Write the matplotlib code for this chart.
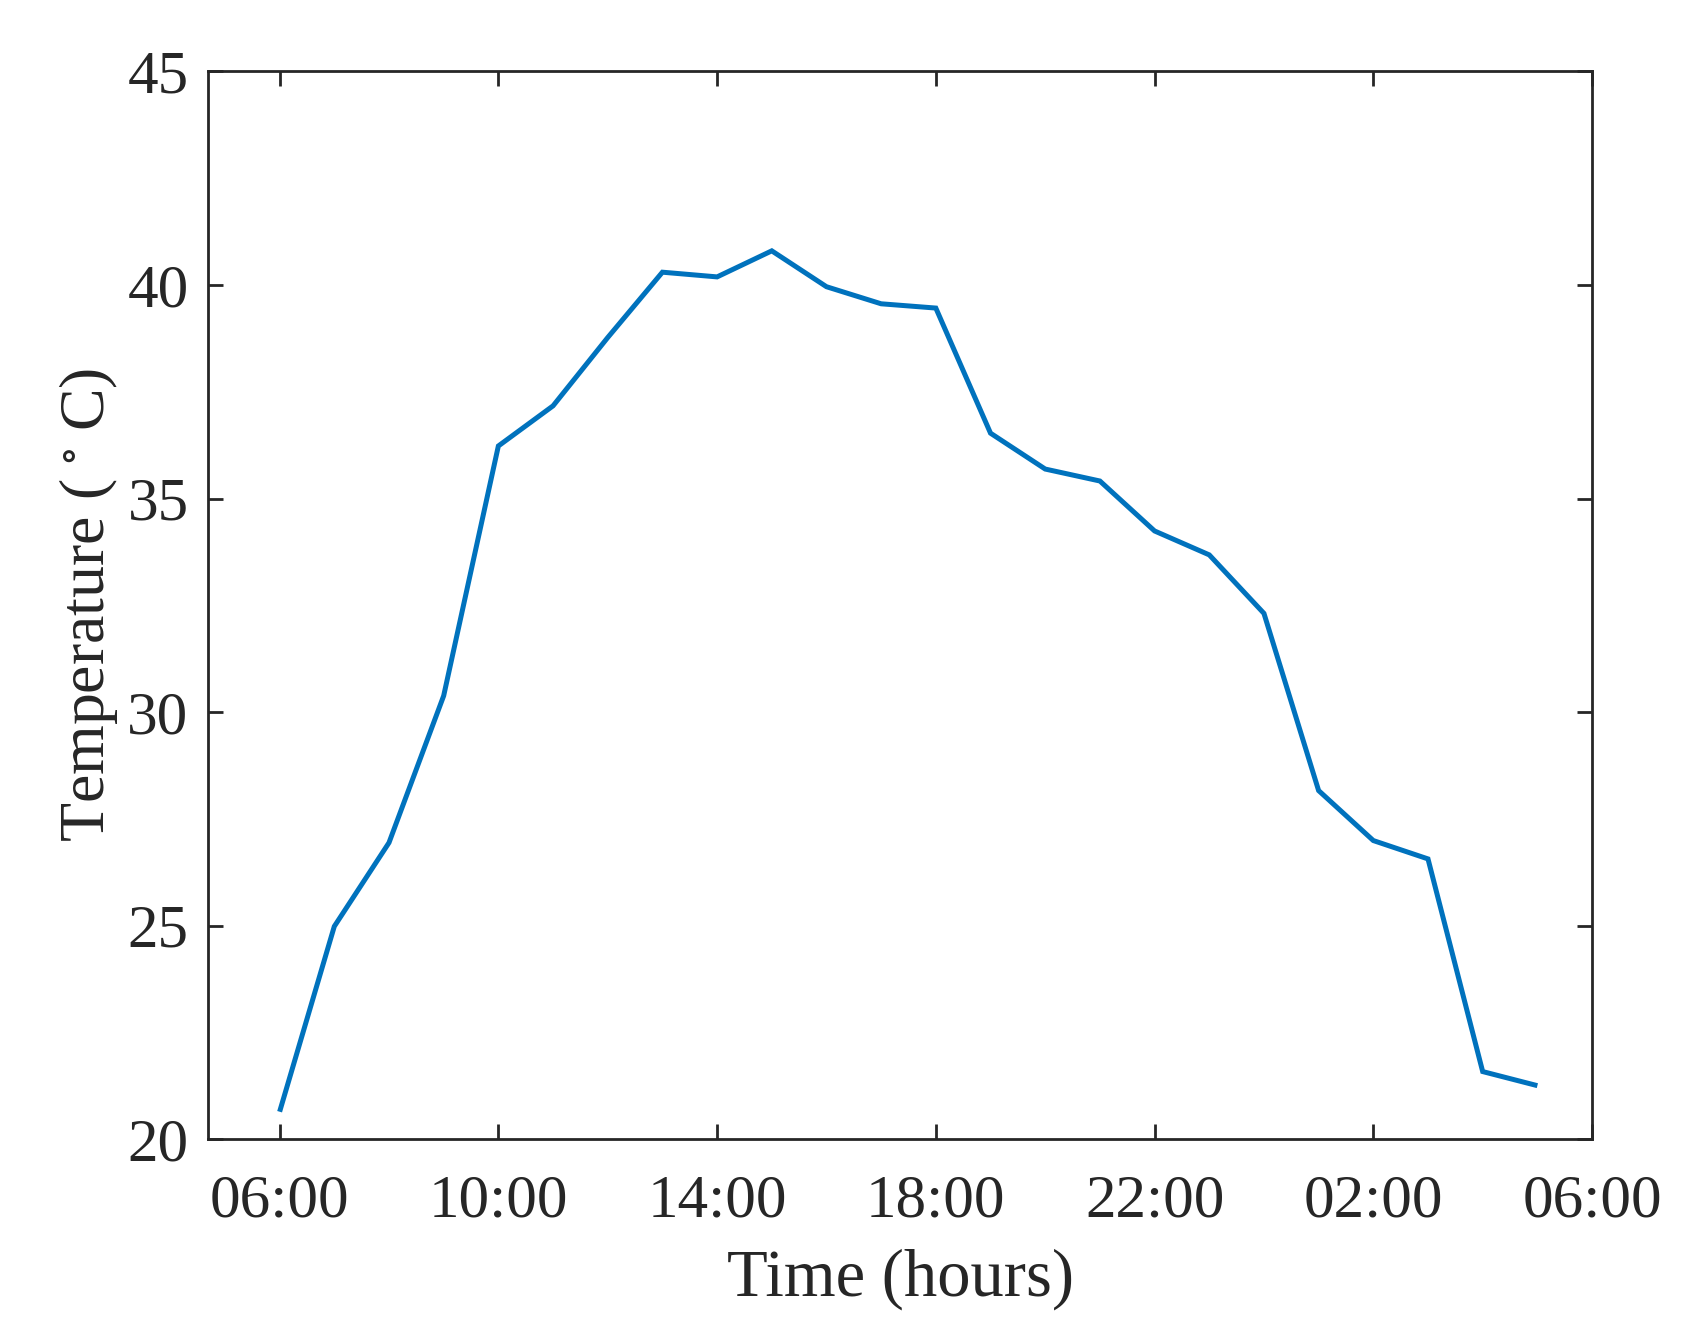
import numpy as np
import matplotlib
matplotlib.use("Agg")
import matplotlib.pyplot as plt

# hourly readings, starting 06:00
hours = np.arange(24)
temps = [20.64, 24.98, 26.94, 30.38, 36.23, 37.17, 38.77, 40.30, 40.19, 40.80,
         39.96, 39.56, 39.46, 36.53, 35.69, 35.41, 34.24, 33.68, 32.31, 28.16,
         26.99, 26.56, 21.58, 21.25]
tick_hours = [0, 4, 8, 12, 16, 20, 24]
tick_labels = ["06:00", "10:00", "14:00", "18:00", "22:00", "02:00", "06:00"]
y_ticks = [20, 25, 30, 35, 40, 45]

plt.rcParams["font.family"] = ["Liberation Serif", "DejaVu Serif"]
plt.rcParams["mathtext.fontset"] = "stix"

dark = "#262626"
fig = plt.figure(figsize=(17.02, 13.24), dpi=100)
ax = fig.add_axes([0.1222, 0.1397, 0.8132, 0.8063])
ax.plot(hours, temps, color="#0072BD", lw=3.6, solid_joinstyle="miter",
        solid_capstyle="butt")

ax.set_xlim(-1.31, 24)
ax.set_ylim(20, 45)
ax.set_xticks(tick_hours)
ax.set_xticklabels(tick_labels)
ax.set_yticks(y_ticks)
ax.tick_params(direction="in", length=11, width=2.0, colors=dark,
               labelsize=44, top=True, right=True)
ax.tick_params(axis="x", pad=25)
ax.tick_params(axis="y", pad=14)
for s in ax.spines.values():
    s.set_linewidth(2.0)
    s.set_color(dark)

ax.set_xlabel("Time (hours)", fontsize=48, color=dark, labelpad=14)
ax.set_ylabel(r"Temperature ($\,^\circ\,$C)", fontsize=46, color=dark, labelpad=5)

fig.savefig("out.png", dpi=100)
